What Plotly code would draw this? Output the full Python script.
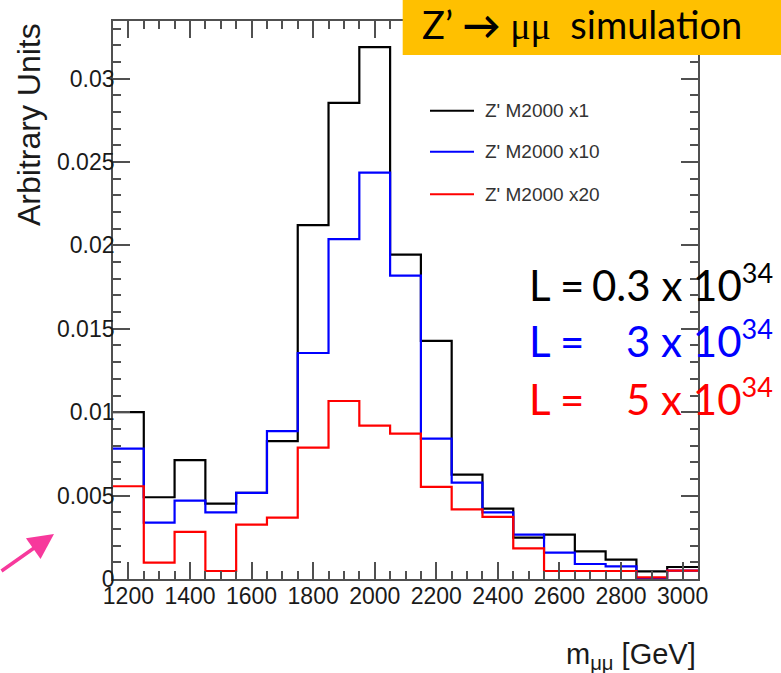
import plotly.graph_objects as go

# Dimuon invariant-mass histograms (normalised), 100 GeV bins
bin_centers = [1200, 1300, 1400, 1500, 1600, 1700, 1800, 1900, 2000, 2100,
               2200, 2300, 2400, 2500, 2600, 2700, 2800, 2900, 3000]
bin_width = 100

zp_x1 = [0.0100, 0.0049, 0.00713, 0.00452, 0.00516, 0.00826, 0.02121, 0.02854,
         0.03189, 0.01945, 0.01427, 0.00626, 0.00422, 0.00248, 0.00266, 0.00166,
         0.00116, 0.00046, 0.00072]
zp_x10 = [0.00782, 0.00338, 0.0047, 0.0040, 0.00516, 0.00886, 0.01355, 0.02038,
          0.02436, 0.01819, 0.00842, 0.00578, 0.0040, 0.00266, 0.00158, 0.0009,
          0.00076, 0.0, 0.0005]
zp_x20 = [0.00556, 0.00098, 0.00282, 0.00048, 0.00326, 0.00368, 0.00788, 0.01067,
          0.0092, 0.00872, 0.00552, 0.00418, 0.00372, 0.00184, 0.00048, 0.00048,
          0.00048, 0.0001, 0.0005]

series_names = ["Z' M2000 x1", "Z' M2000 x10", "Z' M2000 x20"]
series_values = [zp_x1, zp_x10, zp_x20]
series_colors = ["#000000", "#0000ff", "#ff0000"]

x_ticks = [1200, 1400, 1600, 1800, 2000, 2200, 2400, 2600, 2800, 3000]
y_ticks = [0, 0.005, 0.01, 0.015, 0.02, 0.025, 0.03]

lumi_values = ["0.3", "3", "5"]

# page geometry (pixels)
W, H = 781, 673
L_M, R_M, T_M, B_M = 113, 83, 21, 94
PW, PH = W - L_M - R_M, H - T_M - B_M


def px(xp):
    return (xp - L_M) / PW


def py(yp):
    return (H - B_M - yp) / PH


edges = [c - bin_width / 2 for c in bin_centers] + [bin_centers[-1] + bin_width / 2]

fig = go.Figure()
for name, vals, col in zip(series_names, series_values, series_colors):
    fig.add_trace(go.Scatter(
        x=edges, y=vals + [vals[-1]], mode="lines", name=name,
        line=dict(color=col, width=2.2, shape="hv"), showlegend=False,
    ))

axis_font = dict(family="Liberation Sans, Arial, sans-serif", size=23, color="#1a1a1a")
frame = "#505050"

fig.update_xaxes(
    range=[edges[0], edges[-1]], tickvals=x_ticks, ticks="inside", ticklen=17,
    tickwidth=1.6, tickcolor=frame, showline=True, linecolor=frame, linewidth=1.8,
    mirror="allticks", showgrid=False, zeroline=False, tickfont=axis_font,
    ticklabelstandoff=-5,
    minor=dict(ticks="inside", ticklen=8, dtick=50, tick0=1200, tickcolor=frame,
               tickwidth=1.6, showgrid=False),
)
fig.update_yaxes(
    range=[0, 0.033453], tickvals=y_ticks, ticks="inside", ticklen=17,
    tickwidth=1.6, tickcolor=frame, showline=True, linecolor=frame, linewidth=1.8,
    mirror="allticks", showgrid=False, zeroline=False, tickfont=axis_font,
    ticklabelstandoff=-8,
    minor=dict(ticks="inside", ticklen=8, dtick=0.001, tick0=0, tickcolor=frame,
               tickwidth=1.6, showgrid=False),
)

shapes = []
annotations = []

# legend
leg_rows = [110.7, 151.7, 194.3]
for name, col, yr in zip(series_names, series_colors, leg_rows):
    shapes.append(dict(type="line", xref="paper", yref="paper",
                       x0=px(430), x1=px(474), y0=py(yr), y1=py(yr),
                       line=dict(color=col, width=2)))
    annotations.append(dict(xref="paper", yref="paper", x=px(483), y=py(yr),
                            xanchor="left", yanchor="middle", showarrow=False,
                            text=name, font=dict(family="Liberation Sans, Arial",
                                                 size=19, color="#333333")))

# banner
shapes.append(dict(type="rect", xref="paper", yref="paper", layer="above",
                   x0=px(402.7), x1=px(790), y0=py(55), y1=py(-5),
                   fillcolor="#ffc000", line=dict(width=0)))
annotations.append(dict(
    xref="paper", yref="paper", x=px(420), y=py(24), xanchor="left", yanchor="middle",
    showarrow=False,
    text=("Z’ <b>→</b> <span style='font-family:Liberation Serif'>μμ</span>"
          "  simulation"),
    font=dict(family="Lato, sans-serif", size=38, color="#000000")))

# luminosity labels
lumi_rows = [312, 368, 426]
for val, col, yb in zip(lumi_values, series_colors, lumi_rows):
    f = dict(family="Lato, sans-serif", size=42, color=col)
    annotations.append(dict(xref="paper", yref="paper", x=px(527), y=py(yb),
                            xanchor="left", yanchor="bottom", showarrow=False,
                            text="L =", font=f))
    annotations.append(dict(xref="paper", yref="paper", x=px(775), y=py(yb),
                            xanchor="right", yanchor="bottom", showarrow=False,
                            text=(f"{val} x 10<sup><span style='font-size:27px'>"
                                  f"34</span></sup>"), font=f))

# axis titles
annotations.append(dict(xref="paper", yref="paper", x=px(29), y=py(125),
                        xanchor="center", yanchor="middle", textangle=-90,
                        showarrow=False, text="Arbitrary Units",
                        font=dict(family="Liberation Sans, Arial", size=32,
                                  color="#1a1a1a")))
annotations.append(dict(xref="paper", yref="paper", x=px(698), y=py(636),
                        xanchor="right", yanchor="top", showarrow=False,
                        text="m<sub>μμ</sub> [GeV]",
                        font=dict(family="Liberation Sans, Arial", size=29,
                                  color="#1a1a1a")))

# pointer arrow
annotations.append(dict(xref="paper", yref="paper", x=px(54), y=py(534),
                        ax=-64, ay=38, axref="pixel", ayref="pixel",
                        showarrow=True, arrowhead=2, arrowsize=1.45, arrowwidth=3.5,
                        arrowcolor="#f7399c", text=""))

fig.update_layout(
    width=W, height=H, margin=dict(l=L_M, r=R_M, t=T_M, b=B_M),
    paper_bgcolor="white", plot_bgcolor="white",
    shapes=shapes, annotations=annotations, showlegend=False,
)

fig.write_html("out.html")
